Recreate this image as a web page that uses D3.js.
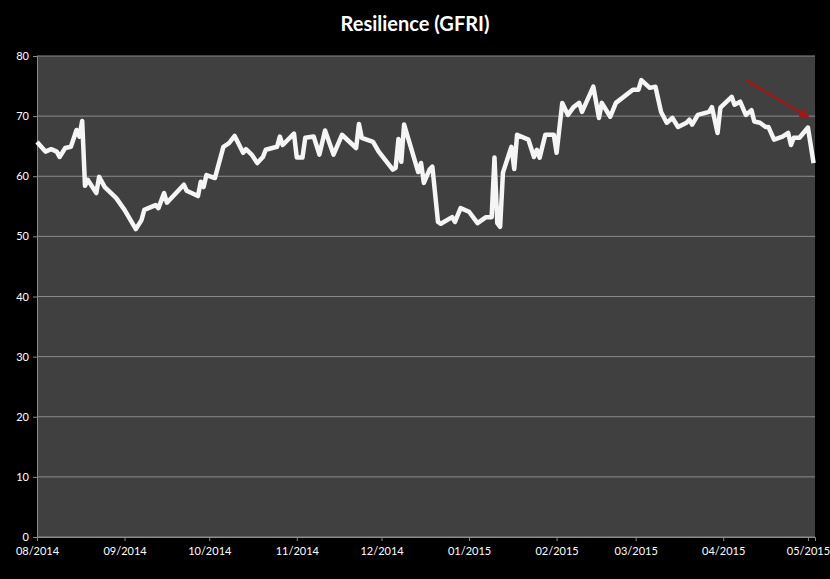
<!DOCTYPE html><html><head><meta charset="utf-8">
<script src="https://cdn.jsdelivr.net/npm/d3@7"></script>
<style>body{margin:0;background:#000}</style></head><body><svg id="c" width="830" height="579"></svg>
<script>
const monthLabels=["08/2014","09/2014","10/2014","11/2014","12/2014","01/2015","02/2015","03/2015","04/2015","05/2015"];
const monthDays=[0,31,61,92,122,153,184,212,243,273];
const yTicks=[0,10,20,30,40,50,60,70,80];
const days=[0,3,5,7,8,10,12,14,15,16,17,18,21,22,24,28,31,35,37,38,42,43,45,46,52,53,57,58,59,60,63,66,68,70,73,74,76,78,80,81,85,86,87,91,92,94,95,98,100,102,105,108,113,114,115,119,121,126,127,128,129,130,135,136,137,139,140,142,143,147,148,150,153,156,159,161,162,163,164,165,168,169,170,174,176,177,178,180,183,184,186,188,190,192,193,197,199,200,203,205,211,213,214,217,219,221,223,225,227,230,231,232,234,238,239,241,242,246,247,249,251,253,254,256,258,259,261,264,266,267,268,270,273,275];
const values=[65.7,64.1,64.5,64.1,63.2,64.7,64.9,67.7,66.6,69.2,58.4,59.4,57.2,59.9,58.2,56.4,54.4,51.2,52.7,54.4,55.2,54.7,57.2,55.6,58.6,57.6,56.7,59.1,58.2,60.2,59.7,64.9,65.5,66.7,63.9,64.5,63.6,62.2,63.2,64.4,64.9,66.6,65.2,67.1,63.1,63.1,66.4,66.6,63.6,67.6,63.6,66.9,64.7,68.7,66.4,65.7,64.1,61.1,61.4,66.2,62.4,68.6,60.7,62.2,58.9,61.1,61.6,52.4,52.1,53.2,52.4,54.7,54.1,52.2,53.2,53.2,63.1,52.2,51.6,60.6,64.9,61.2,66.9,66.1,63.2,64.4,63.1,66.9,66.9,63.9,72.2,70.2,71.5,72.2,70.7,74.9,69.7,72.2,69.9,72.2,74.4,74.4,76.0,74.7,74.9,70.7,68.9,69.7,68.2,68.9,69.4,68.6,70.2,70.7,71.5,67.2,71.4,73.2,71.9,72.4,70.2,71.0,69.1,68.9,68.2,68.2,66.1,66.6,67.2,65.2,66.4,66.4,68.1,62.2];
const arrowFrom=[251,76.0], arrowTo=[273,69.9];

const svg=d3.select("#c");
const L=37,R=815,T=56,B=537;
const x=d3.scaleLinear().domain([0,275.5]).range([L,R]);
const y=d3.scaleLinear().domain([0,80]).range([B,T]);
svg.append("rect").attr("width",830).attr("height",579).attr("fill","#000");
svg.append("rect").attr("x",L).attr("y",T).attr("width",R-L).attr("height",B-T).attr("fill","#404040");
svg.append("g").selectAll("line").data(yTicks).join("line")
 .attr("x1",L).attr("x2",R).attr("y1",d=>y(d)).attr("y2",d=>y(d)).attr("stroke","#8a8a8a").attr("stroke-width",1);
const font="Lato, 'Open Sans', sans-serif";
const ya=svg.append("g").attr("transform",`translate(${L},0)`).call(d3.axisLeft(y).tickValues(yTicks).tickSize(4).tickPadding(4));
const xa=svg.append("g").attr("transform",`translate(0,${B})`).call(d3.axisBottom(x).tickValues(monthDays).tickFormat((d,i)=>monthLabels[i]).tickSize(4).tickPadding(6));
[ya,xa].forEach(a=>{a.selectAll("path,line").attr("stroke","#8a8a8a");a.selectAll("text").attr("fill","#fff").style("font-family",font).style("font-size","11px");});
svg.append("path").datum(days.map((d,i)=>[d,values[i]]))
 .attr("d",d3.line().x(d=>x(d[0])).y(d=>y(d[1])))
 .attr("fill","none").attr("stroke","#f5f5f5").attr("stroke-width",4.5).attr("stroke-linejoin","round");
svg.append("defs").append("marker").attr("id","ah").attr("viewBox","0 0 10 10").attr("refX",8).attr("refY",5)
 .attr("markerWidth",4).attr("markerHeight",4).attr("orient","auto").append("path").attr("d","M0,0L10,5L0,10z").attr("fill","#a01818");
svg.append("line").attr("x1",x(arrowFrom[0])).attr("y1",y(arrowFrom[1])).attr("x2",x(arrowTo[0])).attr("y2",y(arrowTo[1]))
 .attr("stroke","#a01818").attr("stroke-width",2.5).attr("marker-end","url(#ah)");
svg.append("text").attr("x",415).attr("y",31).attr("text-anchor","middle").attr("fill","#fff")
 .style("font-family",font).style("font-weight","bold").style("font-size","20px").text("Resilience (GFRI)");
</script></body></html>
